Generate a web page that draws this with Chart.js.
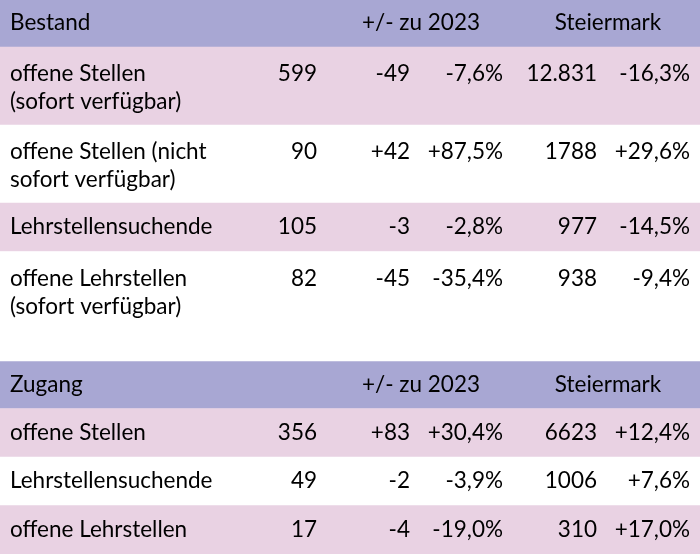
<!DOCTYPE html>
<html>
<head>
<meta charset="utf-8">
<script src="https://cdn.jsdelivr.net/npm/chart.js@4/dist/chart.umd.min.js"></script>
<style>
  html, body { margin: 0; padding: 0; background: #fff; }
</style>
</head>
<body>
<canvas id="tab" width="700" height="554"></canvas>
<script>
// table content
const sections = ['Bestand', 'Zugang']
const headerCols = ['+/- zu 2023', 'Steiermark']

const bestandLabels = ['offene Stellen\n(sofort verfügbar)', 'offene Stellen (nicht\nsofort verfügbar)', 'Lehrstellensuchende', 'offene Lehrstellen\n(sofort verfügbar)']
const bestandWert = [599, 90, 105, 82]
const bestandDiff = [-49, 42, -3, -45]
const bestandDiffPct = [-7.6, 87.5, -2.8, -35.4]
const bestandStmk = [12831, 1788, 977, 938]
const bestandStmkPct = [-16.3, 29.6, -14.5, -9.4]

const zugangLabels = ['offene Stellen', 'Lehrstellensuchende', 'offene Lehrstellen']
const zugangWert = [356, 49, 17]
const zugangDiff = [83, -2, -4]
const zugangDiffPct = [30.4, -3.9, -19.0]
const zugangStmk = [6623, 1006, 310]
const zugangStmkPct = [12.4, 7.6, 17.0]

// layout
const HEAD = 47, PAD = 19, ROWLINE = 29.5, GAP = 32
const TEXTLINE = 28
const FONT = '22.5px Lato'
const colRight = [317, 410, 503, 597, 690]
const headCenter = [421, 608]
const purple = '#a8a7d3'
const pink = '#e9d2e3'

function fmtInt(n) {
  return n >= 10000 ? n.toLocaleString('de-DE') : String(n)
}
function fmtDiff(n) {
  return (n > 0 ? '+' : '') + n
}
function fmtPct(n) {
  return (n > 0 ? '+' : '') + n.toFixed(1).replace('.', ',') + '%'
}

// build rows
let rows = []
function addSection(title, labels, wert, diff, diffPct, stmk, stmkPct) {
  rows.push({ head: true, lines: 1, cells: [title, ...headerCols], color: purple })
  labels.forEach((l, i) => {
    rows.push({
      head: false,
      lines: l.split('\n').length,
      label: l,
      cells: [fmtInt(wert[i]), fmtDiff(diff[i]), fmtPct(diffPct[i]), fmtInt(stmk[i]), fmtPct(stmkPct[i])],
      color: i % 2 == 0 ? pink : '#ffffff'
    })
  })
}
addSection(sections[0], bestandLabels, bestandWert, bestandDiff, bestandDiffPct, bestandStmk, bestandStmkPct)
rows.push({ gap: true, lines: 0, color: '#ffffff' })
addSection(sections[1], zugangLabels, zugangWert, zugangDiff, zugangDiffPct, zugangStmk, zugangStmkPct)

let pos = 0
rows.forEach(r => {
  let h = r.gap ? GAP : r.head ? HEAD : PAD + r.lines * ROWLINE
  r.top = pos
  r.bottom = pos + h
  pos += h
})
const total = pos

const tableText = {
  id: 'tableText',
  afterDatasetsDraw(chart) {
    const ctx = chart.ctx
    const y = chart.scales.y
    const left = chart.chartArea.left
    ctx.save()
    ctx.font = FONT
    ctx.fillStyle = '#000000'
    ctx.textBaseline = 'alphabetic'
    rows.forEach(r => {
      if (r.gap) return
      let top = y.getPixelForValue(r.top)
      let base = top + 31 + (r.lines - 1) * 3
      if (r.head) {
        base = top + 30
        ctx.textAlign = 'left'
        ctx.fillText(r.cells[0], left + 10, base)
        ctx.textAlign = 'center'
        ctx.fillText(r.cells[1], left + headCenter[0], base)
        ctx.fillText(r.cells[2], left + headCenter[1], base)
        return
      }
      ctx.textAlign = 'left'
      r.label.split('\n').forEach((t, k) => {
        ctx.fillText(t, left + 10, base + k * TEXTLINE)
      })
      ctx.textAlign = 'right'
      r.cells.forEach((c, k) => {
        ctx.fillText(c, left + colRight[k], base)
      })
    })
    ctx.restore()
  }
}

new Chart(document.getElementById('tab'), {
  type: 'bar',
  data: {
    labels: ['Tabelle'],
    datasets: [{
      data: rows.map(r => ({ x: 'Tabelle', y: [r.top, r.bottom] })),
      backgroundColor: rows.map(r => r.color),
      borderWidth: 0,
      categoryPercentage: 1,
      barPercentage: 1
    }]
  },
  options: {
    responsive: false,
    animation: false,
    layout: { padding: 0 },
    scales: {
      x: { display: false },
      y: { display: false, reverse: true, min: 0, max: total }
    },
    plugins: {
      legend: { display: false },
      tooltip: { enabled: false }
    }
  },
  plugins: [tableText]
})
</script>
</body>
</html>
